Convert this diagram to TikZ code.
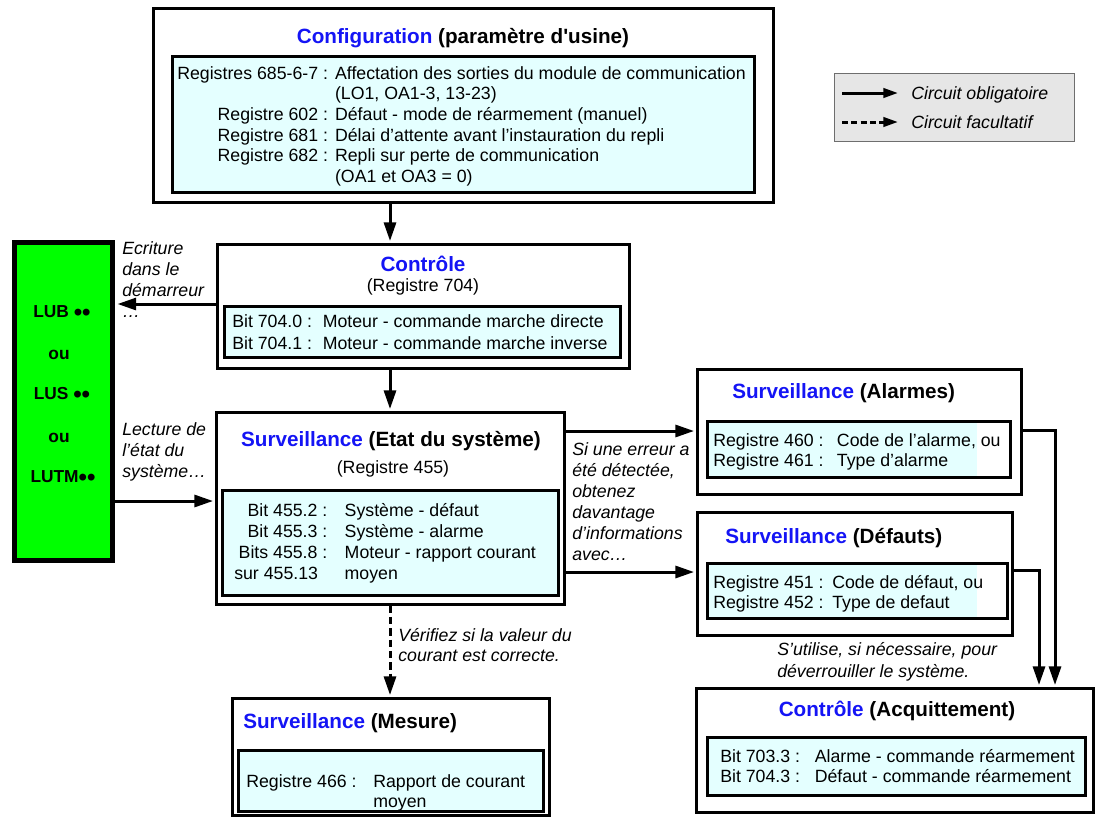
\documentclass[tikz,border=0pt]{standalone}
\usepackage{fontspec}
\setmainfont{Liberation Sans}
\usetikzlibrary{arrows.meta,fit,calc}
\definecolor{tblue}{RGB}{20,20,245}
\definecolor{cfill}{RGB}{228,255,255}
\definecolor{plcgreen}{RGB}{0,255,0}
\definecolor{leggray}{RGB}{230,230,230}
\definecolor{legdraw}{RGB}{110,110,110}
\newcommand{\myBody}{\fontsize{13.3}{15.5}\selectfont}
\newcommand{\myTitle}{\fontsize{15.5}{18}\selectfont\bfseries}
\newcommand{\myLab}{\fontsize{13.3}{15.75}\selectfont\itshape}
\newcommand{\myPlc}{\fontsize{13}{15}\selectfont\bfseries}
\newcommand{\myDots}{\raisebox{-1.6pt}{\fontsize{18}{18}\selectfont ••}}
\begin{document}
\begin{tikzpicture}[x=0.75pt,y=-0.75pt,
  obox/.style={draw=black,line width=2.25pt,inner sep=0pt,fill=white},
  ibox/.style={draw=black,line width=2.25pt,inner sep=0pt,fill=cfill},
  iboxn/.style={draw=black,line width=2.25pt,inner sep=0pt},
  txt/.style={inner sep=0pt,anchor=base west,font=\myBody},
  ttl/.style={inner sep=0pt,font=\myTitle},
  sub/.style={inner sep=0pt,font=\myBody},
  lab/.style={inner sep=0pt,anchor=base west,font=\myLab},
  plctxt/.style={inner sep=0pt,font=\myPlc},
  conn/.style={line width=2.25pt,-{Triangle[length=14pt,width=9pt]}},
  dconn/.style={conn,dash pattern=on 5.5pt off 3pt},
  lconn/.style={line width=2.25pt,-{Triangle[length=11pt,width=7pt]}},
  ldconn/.style={lconn,dash pattern=on 4.5pt off 2.5pt},
]
\useasboundingbox (0,0) rectangle (1098,818);
\fill[white] (0,0) rectangle (1098,818);

% Configuration
\node[obox,fit={(153,8)(773,202)}] (conf) {};
\node[ttl] (confT) at (463,38) {\textcolor{tblue}{Configuration} (paramètre d\textquotesingle usine)};
\node[ibox,fit={(172,56)(754,192)}] (confI) {};
\node[txt] (confX) at (177,79) {\begin{tabular}[t]{@{}r@{\hspace{5.25pt}}l@{}}
Registres 685-6-7 : & Affectation des sorties du module de communication\\
 & (LO1, OA1-3, 13-23)\\
Registre 602 : & Défaut - mode de réarmement (manuel)\\
Registre 681 : & Délai d’attente avant l’instauration du repli\\
Registre 682 : & Repli sur perte de communication\\
 & (OA1 et OA3 = 0)
\end{tabular}};

% Legend
\node[draw=legdraw,fill=leggray,line width=0.75pt,inner sep=0pt,fit={(834,73)(1074,141)}] (leg) {};
\coordinate (l1a) at (842,93);
\coordinate (l1b) at (898,93);
\coordinate (l2a) at (842,122);
\coordinate (l2b) at (898,122);
\draw[lconn] (l1a) -- (l1b);
\draw[ldconn] (l2a) -- (l2b);
\node[lab] (leg1) at (911,99) {Circuit obligatoire};
\node[lab] (leg2) at (911,128) {Circuit facultatif};

% PLC green box
\node[draw=black,fill=plcgreen,line width=3.75pt,inner sep=0pt,fit={(14.5,242.5)(112.5,560)}] (plc) {};
\node[plctxt] (p1) at (62,313) {LUB \myDots};
\node[plctxt] (p2) at (59,355) {ou};
\node[plctxt] (p3) at (62,395) {LUS \myDots};
\node[plctxt] (p4) at (59,438) {ou};
\node[plctxt] (p5) at (63,478) {LUTM\myDots};

% Controle
\node[obox,fit={(217,244)(629,368)}] (ctrl) {};
\node[ttl,text=tblue] (ctrlT) at (423,264) {Contrôle};
\node[sub] (ctrlR) at (423,287) {(Registre 704)};
\node[ibox,fit={(224,306)(620,357)}] (ctrlI) {};
\node[txt] (ctrlX) at (232,327) {\begin{tabular}[t]{@{}l@{\hspace{8pt}}l@{}}
Bit 704.0 : & Moteur - commande marche directe\\[1pt]
Bit 704.1 : & Moteur - commande marche inverse
\end{tabular}};

% Surveillance (Etat)
\node[obox,fit={(216,412)(564,604)}] (surv) {};
\node[ttl] (survT) at (391,441) {\textcolor{tblue}{Surveillance} (Etat du système)};
\node[sub] (survR) at (393,469) {(Registre 455)};
\node[ibox,fit={(222,490)(558,595)}] (survI) {};
\node[txt] (survX) at (234,516) {\begin{tabular}[t]{@{}r@{\hspace{13pt}}l@{}}
Bit 455.2 : & Système - défaut\\[0.25pt]
Bit 455.3 : & Système - alarme\\[0.25pt]
Bits 455.8 : & Moteur - rapport courant\\[0.25pt]
sur 455.13\hspace{7pt} & moyen
\end{tabular}};

% Surveillance (Alarmes)
\node[obox,fit={(697,369)(1021,494)}] (alarm) {};
\node[ttl,anchor=west] (alarmT) at (732,393) {\textcolor{tblue}{Surveillance} (Alarmes)};
\node[iboxn,fill=white,fit={(707,421)(1010,477)}] (alarmI0) {};
\fill[cfill] (708.5,422.5) rectangle (977,475.5);
\node[iboxn,fit={(707,421)(1010,477)}] (alarmI) {};
\node[txt] (alarmX) at (713,446) {\begin{tabular}[t]{@{}l@{\hspace{10pt}}l@{}}
Registre 460 : & Code de l’alarme, ou\\
Registre 461 : & Type d’alarme
\end{tabular}};

% Surveillance (Defauts)
\node[obox,fit={(697,512)(1012,635)}] (def) {};
\node[ttl,anchor=west] (defT) at (725,538) {\textcolor{tblue}{Surveillance} (Défauts)};
\node[iboxn,fill=white,fit={(707,563)(1007,618)}] (defI0) {};
\fill[cfill] (708.5,564.5) rectangle (977,616.5);
\node[iboxn,fit={(707,563)(1007,618)}] (defI) {};
\node[txt] (defX) at (713,588) {\begin{tabular}[t]{@{}l@{\hspace{6.5pt}}l@{}}
Registre 451 : & Code de défaut, ou\\
Registre 452 : & Type de defaut
\end{tabular}};

% Controle (Acquittement)
\node[obox,fit={(696,688)(1093,812)}] (acq) {};
\node[ttl] (acqT) at (897,711) {\textcolor{tblue}{Contrôle} (Acquittement)};
\node[ibox,fit={(707,737)(1085,795)}] (acqI) {};
\node[txt] (acqX) at (720,762) {\begin{tabular}[t]{@{}l@{\hspace{11pt}}l@{}}
Bit 703.3 : & Alarme - commande réarmement\\
Bit 704.3 : & Défaut - commande réarmement
\end{tabular}};

% Surveillance (Mesure)
\node[obox,fit={(232,698)(549,815)}] (mes) {};
\node[ttl,anchor=west] (mesT) at (243,723) {\textcolor{tblue}{Surveillance} (Mesure)};
\node[ibox,fit={(238,750)(543,811)}] (mesI) {};
\node[txt] (mesX) at (246,787) {\begin{tabular}[t]{@{}l@{\hspace{12.5pt}}l@{}}
Registre 466 : & Rapport de courant\\
 & moyen
\end{tabular}};

% Labels
\node[lab] (labW) at (122,254) {\begin{tabular}[t]{@{}l@{}}Ecriture\\dans le\\démarreur\\…\end{tabular}};
\node[lab] (labR) at (122,435) {\begin{tabular}[t]{@{}l@{}}Lecture de\\l’état du\\système…\end{tabular}};
\node[lab] (labS) at (572,455) {\begin{tabular}[t]{@{}l@{}}Si une erreur a\\été détectée,\\obtenez\\davantage\\d’informations\\avec…\end{tabular}};
\node[lab] (labV) at (398,641) {\begin{tabular}[t]{@{}l@{}}Vérifiez si la valeur du\\[-0.75pt]courant est correcte.\end{tabular}};
\node[lab] (labU) at (777,655) {\begin{tabular}[t]{@{}l@{}}S’utilise, si nécessaire, pour\\[0.75pt]déverrouiller le système.\end{tabular}};

% Connectors
\coordinate (xA) at (390,0);
\draw[conn,shorten >=1.1pt] (conf.south -| xA) -- (ctrl.north -| xA);
\draw[conn,shorten >=1.1pt] (ctrl.south -| xA) -- (surv.north -| xA);
\draw[dconn,shorten >=1.1pt] (surv.south -| xA) -- (mes.north -| xA);
\coordinate (yW) at (0,304);
\draw[conn,shorten >=1.9pt] (ctrl.west |- yW) -- (plc.east |- yW);
\coordinate (yR) at (0,501);
\draw[conn,shorten >=1.1pt] (plc.east |- yR) -- (surv.west |- yR);
\coordinate (y1) at (0,431);
\coordinate (y2) at (0,572);
\draw[conn,shorten >=1.1pt] (surv.east |- y1) -- (alarm.west |- y1);
\draw[conn,shorten >=1.1pt] (surv.east |- y2) -- (def.west |- y2);
\coordinate (xB) at (1055,430);
\coordinate (xC) at (1039,570);
\draw[conn,shorten >=1.1pt] (alarm.east |- xB) -- (xB) -- (acq.north -| xB);
\draw[conn,shorten >=1.1pt] (def.east |- xC) -- (xC) -- (acq.north -| xC);
\end{tikzpicture}
\end{document}
